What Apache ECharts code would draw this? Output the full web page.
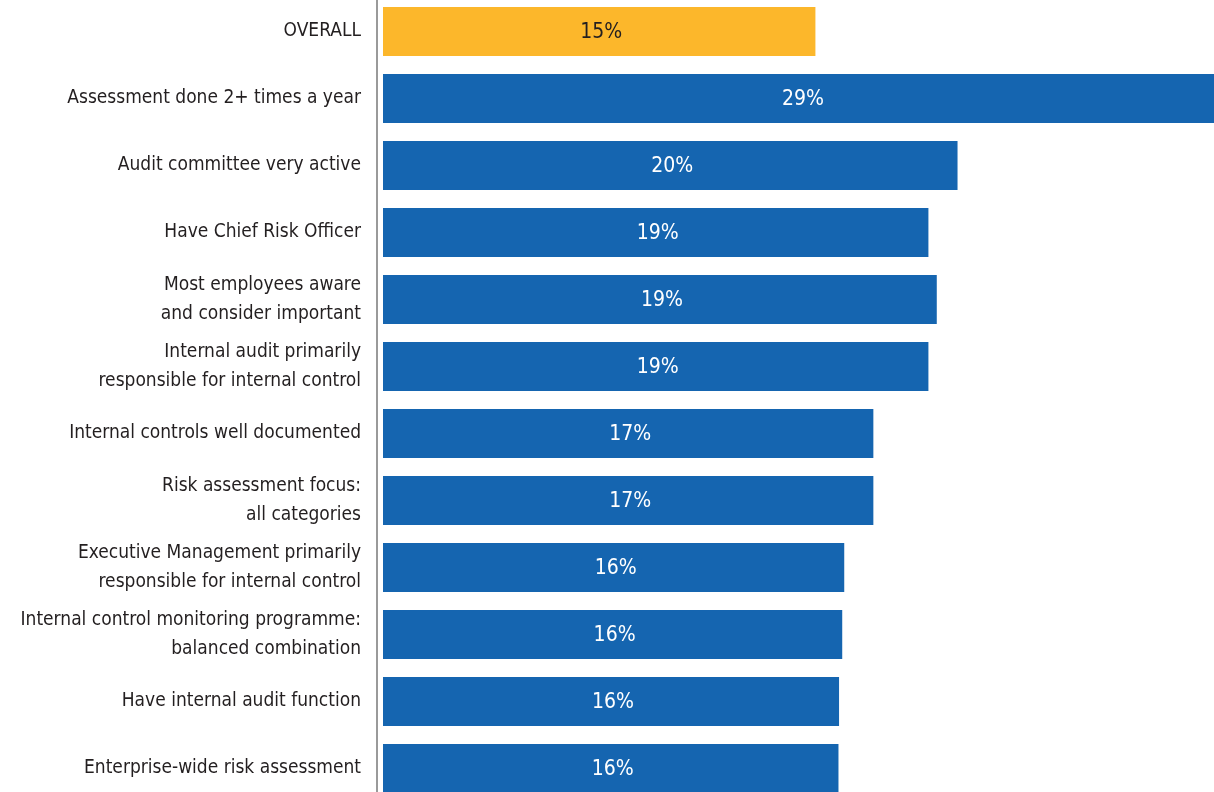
<!DOCTYPE html>
<html>
<head>
<meta charset="utf-8">
<title>Internal control drivers</title>
<script src="https://cdn.jsdelivr.net/npm/echarts@6/dist/echarts.min.js"></script>
<style>
  html, body { margin: 0; padding: 0; background: #ffffff; overflow: hidden; }
  /* the canvas runs slightly past the window so the longest bar bleeds off the right edge */
  #chart { width: 1219px; height: 804px; margin-top: -2px; }
</style>
</head>
<body>
<div id="chart"></div>
<script>
// Category labels, top to bottom
const categories = [
  'OVERALL',
  'Assessment done 2+ times a year',
  'Audit committee very active',
  'Have Chief Risk Officer',
  'Most employees aware\nand consider important',
  'Internal audit primarily\nresponsible for internal control',
  'Internal controls well documented',
  'Risk assessment focus:\nall categories',
  'Executive Management primarily\nresponsible for internal control',
  'Internal control monitoring programme:\nbalanced combination',
  'Have internal audit function',
  'Enterprise-wide risk assessment'
];

// Share of respondents (%), shown rounded on each bar
const shares = [15.0, 29.0, 19.93, 18.92, 19.21, 18.92, 17.01, 17.01, 16.0, 15.93, 15.82, 15.80];

// Which bar is the overall benchmark
const highlightIndex = 0;

const FONT = '"DejaVu Sans Condensed", "Liberation Sans Narrow", "Roboto", sans-serif';
const BLUE = '#1565b0';
const GOLD = '#fcb72b';

const chart = echarts.init(document.getElementById('chart'), null, { renderer: 'canvas' });

chart.setOption({
  animation: false,
  backgroundColor: '#ffffff',
  grid: { left: 383, right: 0, top: 0, bottom: 0, containLabel: false },
  xAxis: {
    type: 'value',
    min: 0,
    max: 29,
    show: false
  },
  yAxis: {
    type: 'category',
    data: categories,
    inverse: true,
    offset: 6,
    axisLine: { show: true, onZero: false, lineStyle: { color: '#9a9a9a', width: 2 } },
    axisTick: { show: false },
    splitLine: { show: false },
    axisLabel: {
      margin: 16,
      color: '#231f20',
      fontFamily: FONT,
      fontSize: 19,
      lineHeight: 29,
      align: 'right'
    }
  },
  series: [{
    type: 'bar',
    barWidth: 49,
    data: shares.map((v, i) => ({
      value: v,
      itemStyle: { color: i === highlightIndex ? GOLD : BLUE },
      label: { color: i === highlightIndex ? '#231f20' : '#ffffff' }
    })),
    label: {
      show: true,
      position: 'inside',
      offset: [2, 1],
      fontFamily: FONT,
      fontSize: 21,
      formatter: p => Math.round(p.value) + '%'
    }
  }]
});
</script>
</body>
</html>
